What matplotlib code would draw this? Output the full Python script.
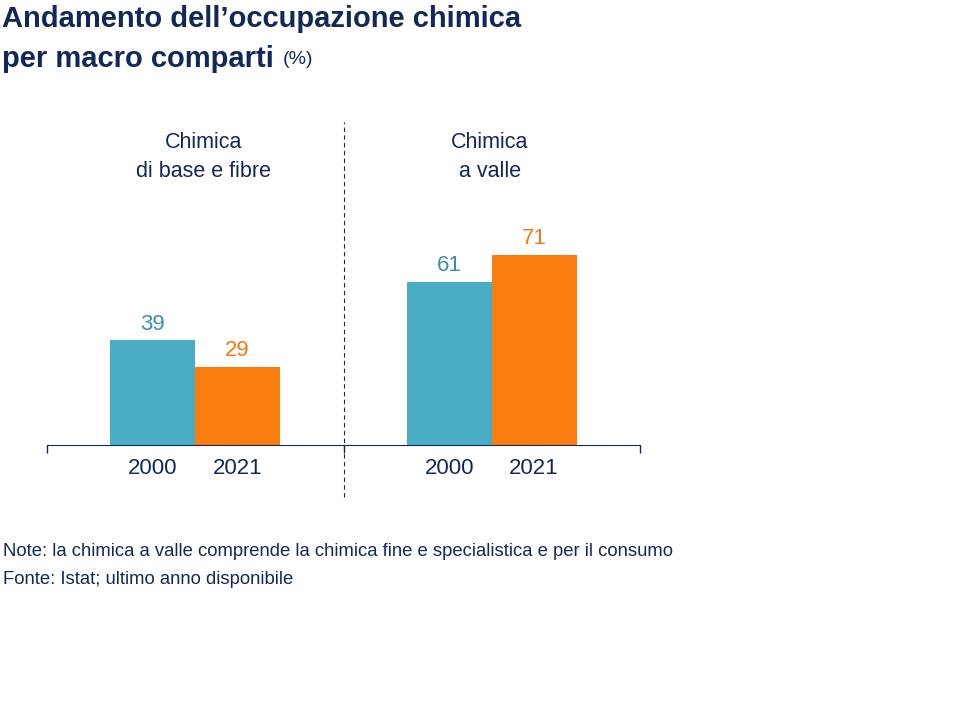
import matplotlib
matplotlib.use("Agg")
import matplotlib.pyplot as plt
import numpy as np

plt.rcParams['font.family'] = ['Liberation Sans', 'DejaVu Sans']

groups = ["Chimica\ndi base e fibre", "Chimica\na valle"]
years = ["2000", "2021"]
values_2000 = [39, 61]
values_2021 = [29, 71]

navy = "#12285A"
blue = "#4BACC6"
orange = "#F97D0F"
blue_txt = "#3D8EAA"
orange_txt = "#F07A14"

fig = plt.figure(figsize=(9.6, 7.2), dpi=100)
ax = fig.add_axes([47/960, (720-445)/720, 593/960, 345/720])

x = np.arange(len(groups))
w = 0.286
b1 = ax.bar(x - w/2, values_2000, w, color=blue)
b2 = ax.bar(x + w/2, values_2021, w, color=orange)

for bars, vals, col in [(b1, values_2000, blue_txt), (b2, values_2021, orange_txt)]:
    for r, v in zip(bars, vals):
        ax.text(r.get_x() + r.get_width()/2, v + 2.2, str(v), ha='center', va='bottom',
                fontsize=16, color=col)

ax.set_xlim(-0.5, 1.5)
ax.set_ylim(0, 345/2.68)

ticks = np.concatenate([x - w/2, x + w/2])
labels = [years[0]]*len(x) + [years[1]]*len(x)
ax.set_xticks(ticks)
ax.set_xticklabels(labels, fontsize=16, color=navy)
ax.tick_params(axis='x', which='major', length=0, pad=9)
ax.set_xticks([-0.5, 0.5, 1.5], minor=True)
ax.tick_params(axis='x', which='minor', length=6, color=navy, width=1)
ax.set_yticks([])
for s in ['top', 'right', 'left']:
    ax.spines[s].set_visible(False)
ax.spines['bottom'].set_color(navy)

ax.axvline(0.5, ymin=-52/345, ymax=(445-122)/345, color=navy, lw=0.8,
           linestyle=(0, (4, 3)), clip_on=False)

ax.text(204/960, 1 - 157/720, groups[0], transform=fig.transFigure, ha='center', va='center',
        fontsize=15.5, color=navy, linespacing=1.55)
ax.text(490/960, 1 - 157/720, groups[1], transform=fig.transFigure, ha='center', va='center',
        fontsize=15.5, color=navy, linespacing=1.55)

fig.text(2/960, 1 - 19/720, "Andamento dell\u2019occupazione chimica", fontsize=21,
         fontweight='bold', color=navy, ha='left', va='center')
t = fig.text(2/960, 1 - 59/720, "per macro comparti", fontsize=21,
             fontweight='bold', color=navy, ha='left', va='center')
fig.canvas.draw()
bb = t.get_window_extent()
fig.text(bb.x1/960 + 9/960, 1 - 60/720, "(%)", fontsize=14, color=navy,
         ha='left', va='center')

fig.text(3/960, 1 - 551/720, "Note: la chimica a valle comprende la chimica fine e specialistica e per il consumo",
         fontsize=13.3, color=navy, ha='left', va='center')
fig.text(3/960, 1 - 580/720, "Fonte: Istat; ultimo anno disponibile",
         fontsize=13.3, color=navy, ha='left', va='center')

fig.savefig("out.png", dpi=100)
